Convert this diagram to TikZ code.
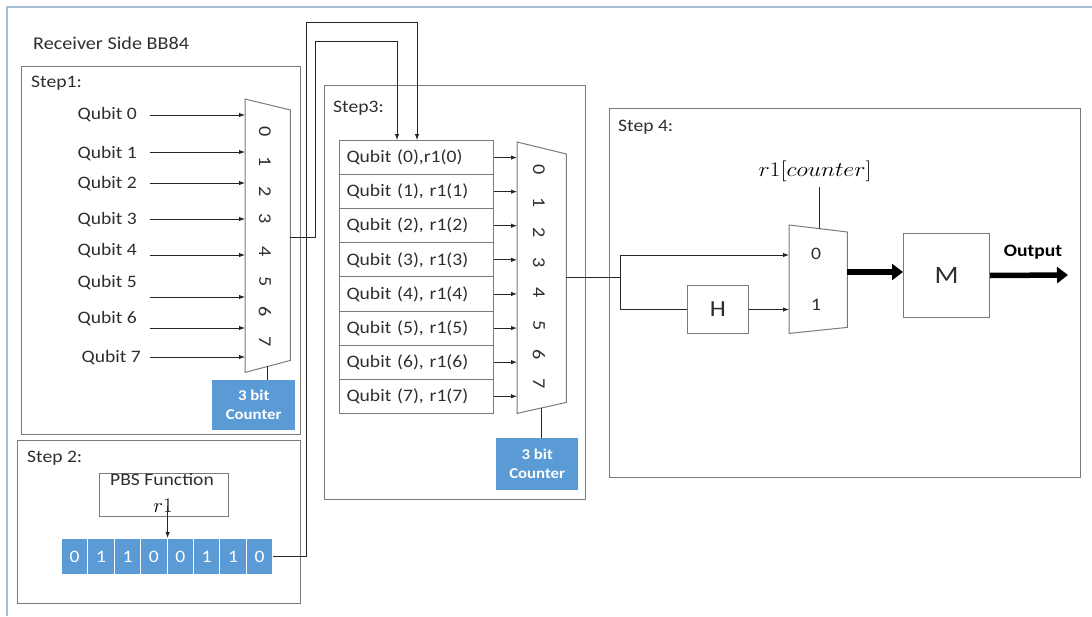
\documentclass[tikz,border=0pt]{standalone}
\usepackage{fontspec}
\setmainfont{Carlito}[FakeStretch=1.12]
\usetikzlibrary{arrows.meta,calc}
\definecolor{bb}{HTML}{5B9BD5}
\definecolor{framec}{HTML}{A9BDD8}
\definecolor{edgec}{HTML}{7A7A7A}
\definecolor{txt}{HTML}{2E2E2E}
\begin{document}
\begin{tikzpicture}[x=1pt,y=-1pt,
  lbl/.style={font=\fontsize{17.5}{20}\selectfont, text=txt, inner sep=0},
  panel/.style={draw=edgec, line width=1.3pt, anchor=north west, inner sep=0},
  blk/.style={draw=edgec, line width=1pt, anchor=north west, inner sep=0},
  wire/.style={draw=black!85, line width=0.9pt},
  arr/.style={wire, -{Latex[length=6pt,width=4.5pt]}},
  fat/.style={draw=black, line width=5.5pt, -{Triangle[length=11pt,width=16pt]}},
  muxbody/.style={draw=edgec, line width=1pt, fill=white},
  ghost/.style={inner sep=0, anchor=north west},
  counter/.style={fill=bb, text=white, font=\fontsize{15}{19}\selectfont\bfseries, align=center, anchor=north west, inner sep=0},
  bit/.style={fill=bb, draw=white, line width=1pt, text=white, font=\fontsize{17.5}{20}\selectfont, anchor=north west, inner sep=0, minimum width=26.4, minimum height=36},
  digit/.style={font=\fontsize{18}{20}\selectfont, text=txt, rotate=-90, inner sep=0},
  row/.style={blk, minimum width=153, minimum height=34.1, text width=140, align=left, inner xsep=7, font=\fontsize{17.5}{20}\selectfont, text=txt},
  mathlbl/.style={inner sep=0, text=black, font=\fontsize{20}{22}\selectfont}
]
\useasboundingbox (0,0) rectangle (1092,616);
% outer frame
\draw[framec, line width=1.3pt] (7,616) -- (7,7) -- (1092,7);
\node[lbl, anchor=west, font=\fontsize{18}{20}\selectfont] (title) at (33,43) {Receiver Side BB84};

% ---------- Step 1 ----------
\node[panel, minimum width=279, minimum height=368] (s1) at (21,66) {};
\node[lbl, anchor=west] (s1l) at (31,83) {Step1:};
\node[ghost, minimum width=45, minimum height=273] (mux1) at (245,99) {};
\draw[muxbody] (mux1.north west) -- ($(mux1.north east)+(0,11)$) -- ($(mux1.south east)+(0,-12)$) -- (mux1.south west) -- cycle;
\foreach \i/\ly/\ay/\lx in {0/115/115/137,1/154/152/137,2/184/183/137,3/220/219/137,4/251/255/137,5/283/297/137,6/319/328/137,7/358/357/141}{
  \node[lbl, anchor=east] (q\i) at (\lx,\ly) {Qubit \i};
  \coordinate (qs\i) at (150,\ay);
  \draw[arr] (qs\i) -- (qs\i -| mux1.west);
}
\foreach \i/\dy in {0/132,1/162,2/192,3/219,4/252,5/282,6/312,7/342}{
  \node[digit] (d1\i) at (265,\dy) {\i};
}
\node[counter, minimum width=83, minimum height=50] (c1) at (212,380) {3 bit\\Counter};
\coordinate (m1b) at (267,366);
\draw[wire] (m1b) -- (m1b |- c1.north);

% ---------- Step 2 ----------
\node[panel, minimum width=283, minimum height=163] (s2) at (17,440) {};
\node[lbl, anchor=west] (s2l) at (27,458) {Step 2:};
\node[blk, minimum width=129, minimum height=43] (pbs) at (99,473) {};
\node[lbl, anchor=north] (pbst) at (162,473) {PBS Function};
\node[mathlbl] (r1) at (163,506) {$r1$};
\foreach \v [count=\k from 0] in {0,1,1,0,0,1,1,0}{
  \node[bit] (b\k) at ({61+26.4*\k},538) {\v};
}
\draw[arr] (b3.north east |- r1.center) -- (b3.north east);

% ---------- Step 3 ----------
\node[panel, minimum width=261, minimum height=414] (s3) at (324,85) {};
\node[lbl, anchor=west] (s3l) at (333,108) {Step3:};
\foreach \i in {0,...,7}{
  \ifnum\i=0
    \node[row] (t\i) at (339,{140+34.1*\i}) {Qubit (\i),r1(\i)};
  \else
    \node[row] (t\i) at (339,{140+34.1*\i}) {Qubit (\i), r1(\i)};
  \fi
}
\node[ghost, minimum width=49, minimum height=271] (mux2) at (517,142) {};
\draw[muxbody] (mux2.north west) -- ($(mux2.north east)+(0,12)$) -- ($(mux2.south east)+(0,-11)$) -- (mux2.south west) -- cycle;
\foreach \i in {0,...,7}{
  \draw[arr] (t\i.east) -- (t\i.east -| mux2.west);
}
\foreach \i/\dy in {0/170,1/203,2/233,3/263,4/293,5/326,6/355,7/384}{
  \node[digit] (d2\i) at (539,\dy) {\i};
}
\node[counter, minimum width=82, minimum height=52] (c2) at (496,438) {3 bit\\Counter};
\coordinate (m2b) at (541,408);
\draw[wire] (m2b) -- (m2b |- c2.north);

% cross-step wires
\coordinate (m1out) at (290,237);
\coordinate (in0) at (397,41);
\coordinate (in1) at (417,22);
\draw[arr] (m1out) -| (315,41) -- (in0) -- (in0 |- t0.north);
\draw[arr] (b7.east) -| (306,22) -- (in1) -- (in1 |- t0.north);

% ---------- Step 4 ----------
\node[panel, minimum width=471, minimum height=369] (s4) at (609,108) {};
\node[lbl, anchor=west] (s4l) at (618,127) {Step 4:};
\node[ghost, minimum width=58, minimum height=108] (mux3) at (789,225) {};
\draw[muxbody] (mux3.north west) -- ($(mux3.north east)+(0,7)$) -- ($(mux3.south east)+(0,-6)$) -- (mux3.south west) -- cycle;
\node[lbl] (m30) at (816,254) {0};
\node[lbl] (m31) at (816,305) {1};
\node[mathlbl] (ctl) at (815,171) {\scalebox{1.15}[1]{$r1[counter]$}};
\coordinate (ctlb) at (819,187);
\draw[wire] (ctlb) -- (819,228.5);
\node[blk, minimum width=61, minimum height=48] (H) at (687,285) {};
\node[lbl, font=\fontsize{23}{25}\selectfont] at (H.center) {H};
\node[blk, minimum width=86, minimum height=84] (M) at (903,233) {};
\node[lbl, font=\fontsize{25}{27}\selectfont] at (M.center) {M};
\coordinate (m2out) at (566,277);
\coordinate (split) at (620,277);
\coordinate (m3in0) at (789,255);
\draw[wire] (m2out) -- (split);
\draw[arr] (split) |- (m3in0);
\draw[wire] (split) |- (H.west);
\draw[arr] (H.east) -- (H.east -| mux3.west);
\coordinate (m3out) at (847,272);
\draw[fat] (m3out) -- (m3out -| M.west);
\coordinate (outp) at (1068,275);
\draw[fat] (M.east) -- (outp);
\node[lbl, font=\fontsize{17.5}{20}\selectfont\bfseries, text=black] (outl) at (1033,252) {Output};
\end{tikzpicture}
\end{document}
